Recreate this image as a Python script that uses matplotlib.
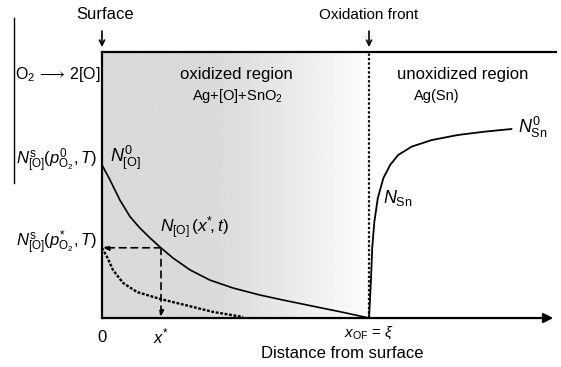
import numpy as np
import matplotlib
matplotlib.use("Agg")
import matplotlib.pyplot as plt

plt.rcParams['font.family'] = ['Liberation Sans', 'DejaVu Sans']
plt.rcParams['mathtext.fontset'] = 'custom'
plt.rcParams['mathtext.rm'] = 'Liberation Sans'
plt.rcParams['mathtext.it'] = 'Liberation Sans:italic'
plt.rcParams['mathtext.bf'] = 'Liberation Sans:bold'

# ---- schematic data (distance normalised to oxidation front = 1, N normalised to N0_[O] = 1)
surface_x = 0.0
front_x = 1.0
axis_end = 1.685
top_level = 1.739
x_star = 0.221
n_star = 0.459

# N_[O](x) solid curve
o_x = [0.0, 0.030, 0.067, 0.105, 0.142, 0.180, 0.221, 0.266, 0.330, 0.404,
       0.491, 0.592, 0.693, 0.805, 0.903, 1.0]
o_y = [1.0, 0.902, 0.771, 0.662, 0.588, 0.523, 0.458, 0.392, 0.314, 0.248,
       0.196, 0.150, 0.112, 0.072, 0.037, 0.0]

# dashed curve (lower surface concentration)
d_x = [0.0, 0.019, 0.041, 0.079, 0.131, 0.217, 0.318, 0.416, 0.528]
d_y = [0.458, 0.399, 0.314, 0.229, 0.170, 0.125, 0.082, 0.040, 0.007]

# N_Sn curve
sn_x = [1.0, 1.007, 1.012, 1.020, 1.033, 1.054, 1.079, 1.109, 1.160, 1.235,
        1.333, 1.434, 1.534]
sn_y = [0.0, 0.235, 0.458, 0.629, 0.784, 0.915, 1.0, 1.065, 1.120, 1.163,
        1.196, 1.218, 1.235]

fig = plt.figure(figsize=(5.61, 3.67), dpi=100)
ax = fig.add_axes([0, 0, 1, 1])
ax.set_xlim(-0.382, 1.719)
ax.set_ylim(-0.320, 2.078)
ax.axis('off')

# gray gradient region
gx = np.linspace(0, 1, 400)
shade = np.where(gx < 0.42, 0.855, 0.855 + (0.99 - 0.855) * ((gx - 0.42) / 0.58) ** 1.1)
img = np.tile(shade, (2, 1))
ax.imshow(img, cmap='gray', vmin=0, vmax=1, extent=[surface_x, front_x, 0, top_level],
          aspect='auto', interpolation='bilinear', zorder=0)

# frame lines
ax.plot([surface_x, surface_x], [0, top_level], color='black', lw=1.6, zorder=3)
ax.plot([surface_x, 1.70], [top_level, top_level], color='black', lw=1.6, zorder=3)
ax.annotate('', xy=(axis_end + 0.005, 0), xytext=(surface_x, 0),
            arrowprops=dict(arrowstyle='-|>', color='black', lw=1.6,
                            mutation_scale=14, shrinkA=0, shrinkB=0), zorder=3)
ax.plot([front_x, front_x], [0, top_level], color='black', lw=1.6, ls=(0, (1, 1)), zorder=3)

# left annotation line
ax.plot([-0.330, -0.330], [0.882, 1.961], color='black', lw=1.0)

# curves
kw = dict(solid_joinstyle='round', solid_capstyle='round')
ax.plot(o_x, o_y, color='black', lw=1.2, zorder=4, **kw)
ax.plot(d_x, d_y, color='black', lw=1.7, ls=(0, (1.2, 0.7)), zorder=4)
ax.plot(sn_x, sn_y, color='black', lw=1.3, zorder=4, **kw)

# dashed guides with arrows
ax.annotate('', xy=(surface_x + 0.005, n_star), xytext=(x_star, n_star),
            arrowprops=dict(arrowstyle='-|>', color='black', lw=1.2, ls=(0, (4, 3)),
                            mutation_scale=8, shrinkA=0, shrinkB=0), zorder=5)
ax.annotate('', xy=(x_star, 0.01), xytext=(x_star, n_star),
            arrowprops=dict(arrowstyle='-|>', color='black', lw=1.2, ls=(0, (4, 3)),
                            mutation_scale=8, shrinkA=0, shrinkB=0), zorder=5)

# top arrows
for xx in (surface_x, front_x):
    ax.annotate('', xy=(xx, 1.771), xytext=(xx, 1.875),
                arrowprops=dict(arrowstyle='->', color='black', lw=1.2,
                                mutation_scale=9, shrinkA=0, shrinkB=0))

fs = 12
ax.text(surface_x + 0.01, 1.98, 'Surface', ha='center', va='center', fontsize=fs)
ax.text(front_x, 1.98, 'Oxidation front', ha='center', va='center', fontsize=11)
ax.text(-0.326, 1.588, r'O$_2$$\,\longrightarrow\,$2[O]', ha='left', va='center', fontsize=11.5)

ax.text(0.502, 1.588, 'oxidized region', ha='center', va='center', fontsize=fs)
ax.text(0.509, 1.451, r'Ag+[O]+SnO$_2$', ha='center', va='center', fontsize=10.5)
ax.text(1.352, 1.588, 'unoxidized region', ha='center', va='center', fontsize=fs)
ax.text(1.255, 1.451, 'Ag(Sn)', ha='center', va='center', fontsize=10.5)

ax.text(-0.019, 1.03, r'$N^{\rm s}_{\rm [O]}(p^{0}_{\rm O_2},T)$', ha='right', va='center', fontsize=12)
ax.text(-0.019, 0.49, r'$N^{\rm s}_{\rm [O]}(p^{*}_{\rm O_2},T)$', ha='right', va='center', fontsize=12)
ax.text(0.03, 1.046, r'$N^{0}_{\rm [O]}$', ha='left', va='center', fontsize=13)
ax.text(0.217, 0.59, r'$N_{\rm [O]}\,(x^{*}\!,t)$', ha='left', va='center', fontsize=12.5)
ax.text(1.052, 0.784, r'$N_{\rm Sn}$', ha='left', va='center', fontsize=13)
ax.text(1.558, 1.245, r'$N^{0}_{\rm Sn}$', ha='left', va='center', fontsize=13)

ax.text(surface_x, -0.124, '0', ha='center', va='center', fontsize=fs)
ax.text(x_star, -0.118, r'$x^{*}$', ha='center', va='center', fontsize=fs)
ax.text(front_x, -0.092, r'$x_{\rm OF}$ = $\xi$', ha='center', va='center', fontsize=11)
ax.text(0.899, -0.235, 'Distance from surface', ha='center', va='center', fontsize=fs)

fig.savefig('out.png', dpi=100)
